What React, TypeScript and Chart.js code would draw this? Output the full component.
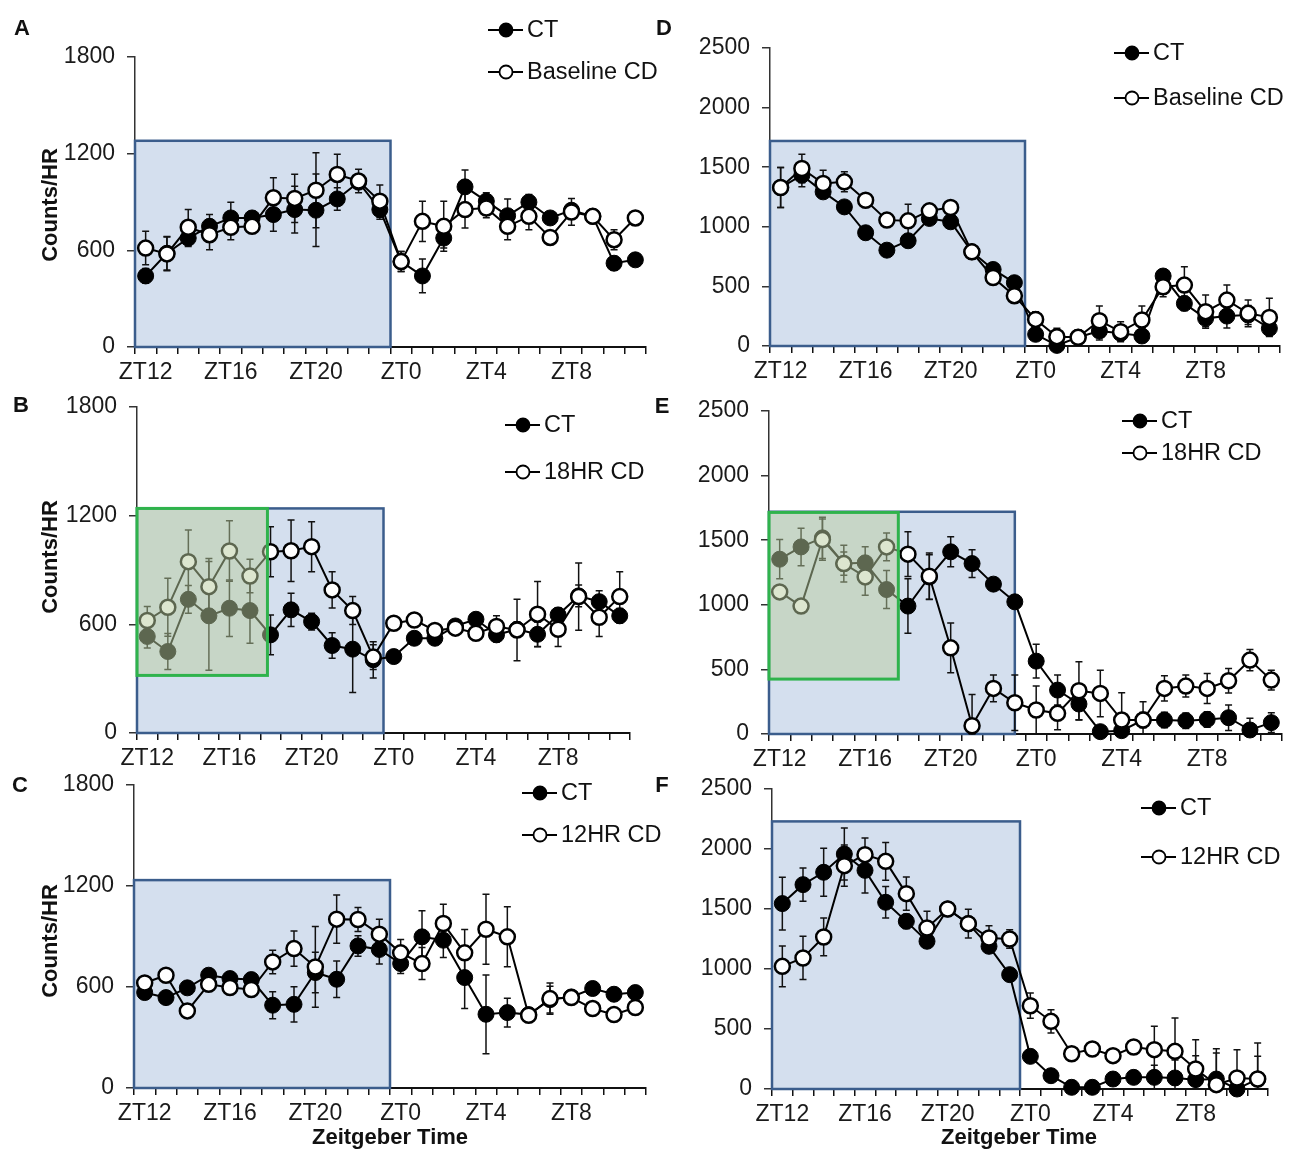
import { useEffect, useRef } from 'react';
import Chart from 'chart.js/auto';

const FONT = '"Liberation Sans", Arial, Helvetica, sans-serif';

// 24 hourly bins, starting at lights off (ZT12)
const hours = [
  'ZT12', 'ZT13', 'ZT14', 'ZT15', 'ZT16', 'ZT17', 'ZT18', 'ZT19', 'ZT20', 'ZT21', 'ZT22', 'ZT23',
  'ZT0', 'ZT1', 'ZT2', 'ZT3', 'ZT4', 'ZT5', 'ZT6', 'ZT7', 'ZT8', 'ZT9', 'ZT10', 'ZT11',
];
const labelledHours = ['ZT12', 'ZT16', 'ZT20', 'ZT0', 'ZT4', 'ZT8'];
const ticksLeft = [0, 600, 1200, 1800];
const ticksRight = [0, 500, 1000, 1500, 2000, 2500];

// A - baseline
const aCT = [441, 582, 676, 749, 801, 801, 822, 853, 849, 919, 1023, 853, 530, 441, 676, 994, 905, 815, 899, 801, 849, 811, 520, 541];
const aCTErr = [46, 104, 52, 73, 98, 42, 104, 145, 225, 70, 40, 60, 62, 105, 62, 104, 52, 104, 48, 20, 20, 20, 42, 25];
const aCD = [614, 578, 743, 697, 743, 749, 926, 922, 973, 1071, 1030, 905, 530, 780, 749, 853, 863, 749, 811, 680, 838, 811, 666, 801];
const aCDErr = [104, 104, 110, 94, 77, 42, 125, 150, 233, 125, 73, 100, 62, 125, 155, 115, 60, 83, 83, 30, 83, 20, 62, 20];

// B - 18HR CD
const bCT = [533, 450, 738, 647, 689, 676, 542, 680, 615, 483, 463, 404, 422, 523, 523, 591, 628, 542, 573, 545, 652, 757, 725, 647];
const bCTErr = [64, 100, 77, 300, 156, 180, 110, 92, 46, 70, 240, 100, 30, 30, 30, 30, 30, 40, 40, 68, 40, 60, 60, 40];
const bCD = [621, 694, 946, 808, 1005, 867, 1001, 1006, 1029, 790, 676, 419, 606, 624, 566, 579, 551, 588, 569, 656, 573, 753, 639, 753];
const bCDErr = [77, 160, 175, 156, 167, 92, 138, 170, 138, 100, 77, 68, 30, 30, 30, 30, 30, 60, 170, 180, 96, 185, 106, 138];

// C - 12HR CD
const cCT = [567, 537, 595, 670, 650, 644, 492, 497, 686, 646, 844, 823, 739, 898, 878, 656, 438, 448, 436, 525, 541, 591, 557, 567];
const cCTErr = [30, 30, 30, 30, 30, 30, 80, 105, 120, 109, 61, 87, 59, 155, 103, 184, 234, 85, 30, 79, 25, 30, 25, 25];
const cCD = [624, 670, 458, 616, 597, 585, 749, 828, 719, 1003, 1001, 914, 803, 739, 977, 803, 943, 898, 432, 531, 537, 472, 436, 478];
const cCDErr = [30, 30, 30, 30, 30, 30, 70, 105, 240, 143, 71, 89, 79, 95, 115, 139, 208, 178, 30, 93, 25, 25, 25, 25];

// D - baseline
const dCT = [1329, 1433, 1293, 1167, 950, 804, 883, 1070, 1042, 790, 642, 531, 98, 5, 73, 126, 106, 84, 587, 357, 232, 251, 260, 148];
const dCTErr = [168, 98, 42, 40, 40, 40, 50, 40, 40, 40, 40, 40, 40, 30, 60, 75, 60, 50, 50, 60, 70, 100, 80, 60];
const dCD = [1330, 1489, 1363, 1377, 1223, 1056, 1050, 1134, 1162, 790, 575, 422, 223, 78, 73, 212, 120, 218, 497, 511, 288, 385, 274, 240];
const dCDErr = [168, 120, 112, 84, 40, 40, 140, 40, 40, 40, 40, 40, 64, 70, 60, 123, 84, 117, 84, 153, 140, 126, 112, 160];

// E - 18HR CD
const eCT = [1353, 1448, 1518, 1319, 1325, 1118, 990, 1215, 1410, 1319, 1160, 1023, 564, 340, 232, 18, 26, 108, 108, 103, 113, 126, 31, 88];
const eCTErr = [152, 145, 160, 90, 124, 147, 211, 173, 116, 108, 50, 40, 131, 116, 124, 40, 40, 60, 60, 60, 60, 98, 90, 77];
const eCD = [1100, 990, 1505, 1319, 1216, 1448, 1392, 1221, 667, 64, 353, 242, 186, 160, 335, 314, 108, 108, 353, 371, 353, 412, 572, 417];
const eCDErr = [40, 40, 160, 142, 142, 108, 173, 180, 193, 242, 103, 214, 186, 128, 224, 180, 211, 142, 98, 85, 116, 95, 82, 77];

// F - 12HR CD
const fCT = [1545, 1703, 1806, 1958, 1822, 1556, 1397, 1231, 1500, 1378, 1189, 953, 272, 111, 14, 14, 83, 97, 97, 92, 78, 83, 0, 83];
const fCTErr = [220, 139, 200, 217, 189, 131, 60, 50, 30, 60, 40, 40, 50, 40, 30, 30, 30, 30, 100, 150, 200, 217, 30, 190];
const fCD = [1022, 1092, 1267, 1861, 1953, 1897, 1628, 1342, 1500, 1378, 1258, 1250, 694, 564, 294, 333, 278, 350, 328, 314, 167, 36, 92, 83];
const fCDErr = [170, 180, 157, 172, 139, 158, 139, 139, 30, 120, 103, 78, 105, 97, 30, 30, 30, 30, 194, 278, 244, 300, 236, 300];

// shaded boxes in axis units: [from bin, to bin, bottom, top]
const aDark = [-0.5, 11.5, 0, 1280];
const bDark = [-0.5, 11.5, 0, 1240];
const bDep = [-0.5, 5.85, 318, 1240];
const cDark = [-0.5, 11.5, 0, 1235];
const dDark = [-0.5, 11.5, 0, 1720];
const eDark = [-0.5, 11.0, 0, 1720];
const eDep = [-0.5, 5.55, 425, 1715];
const fDark = [-0.5, 11.5, 0, 2230];

const PAD_L = 100;
const PAD_R = 20;
const PAD_T = 45;
const PAD_B = 40;

const panels = [
  { letter: 'A', ct: aCT, ctErr: aCTErr, cd: aCD, cdErr: aCDErr, cdName: 'Baseline CD', ticks: ticksLeft, dark: aDark, dep: null,
    box: { l: 135, r: 646, t: 57, b: 347 }, legend: { x: 488, y1: 30, y2: 72 }, letterAt: [22, 28] },
  { letter: 'B', ct: bCT, ctErr: bCTErr, cd: bCD, cdErr: bCDErr, cdName: '18HR CD', ticks: ticksLeft, dark: bDark, dep: bDep,
    box: { l: 137, r: 630, t: 407, b: 733 }, legend: { x: 505, y1: 425, y2: 472 }, letterAt: [21, 405] },
  { letter: 'C', ct: cCT, ctErr: cCTErr, cd: cCD, cdErr: cCDErr, cdName: '12HR CD', ticks: ticksLeft, dark: cDark, dep: null,
    box: { l: 134, r: 646, t: 785, b: 1088 }, legend: { x: 522, y1: 793, y2: 835 }, letterAt: [20, 785] },
  { letter: 'D', ct: dCT, ctErr: dCTErr, cd: dCD, cdErr: dCDErr, cdName: 'Baseline CD', ticks: ticksRight, dark: dDark, dep: null,
    box: { l: 770, r: 1280, t: 48, b: 346 }, legend: { x: 1114, y1: 53, y2: 98 }, letterAt: [664, 28] },
  { letter: 'E', ct: eCT, ctErr: eCTErr, cd: eCD, cdErr: eCDErr, cdName: '18HR CD', ticks: ticksRight, dark: eDark, dep: eDep,
    box: { l: 769, r: 1282, t: 411, b: 734 }, legend: { x: 1122, y1: 421, y2: 453 }, letterAt: [662, 406] },
  { letter: 'F', ct: fCT, ctErr: fCTErr, cd: fCD, cdErr: fCDErr, cdName: '12HR CD', ticks: ticksRight, dark: fDark, dep: null,
    box: { l: 772, r: 1268, t: 789, b: 1089 }, legend: { x: 1141, y1: 808, y2: 857 }, letterAt: [662, 785] },
];

type PanelDef = (typeof panels)[number];

function boxPixels(chart: Chart, b: number[]) {
  const { x, y } = chart.scales;
  const l = x.getPixelForValue(b[0]);
  const r = x.getPixelForValue(b[1]);
  const bot = y.getPixelForValue(b[2]);
  const top = y.getPixelForValue(b[3]);
  return { l, r, top, bot };
}

function makePlugins(p: PanelDef) {
  const shade = {
    id: 'shade',
    beforeDatasetsDraw(chart: Chart) {
      const { ctx } = chart;
      const { l, r, top, bot } = boxPixels(chart, p.dark);
      ctx.save();
      ctx.fillStyle = '#d4dfee';
      ctx.fillRect(l, top, r - l, bot - top);
      ctx.strokeStyle = '#3b5d8c';
      ctx.lineWidth = 2.5;
      ctx.strokeRect(l, top, r - l, bot - top);
      ctx.restore();
    },
    afterDatasetsDraw(chart: Chart) {
      if (!p.dep) return;
      const { ctx } = chart;
      const { l, r, top, bot } = boxPixels(chart, p.dep);
      ctx.save();
      ctx.fillStyle = 'rgba(185, 205, 160, 0.5)';
      ctx.fillRect(l, top, r - l, bot - top);
      ctx.strokeStyle = '#2fb34c';
      ctx.lineWidth = 3;
      ctx.strokeRect(l, top, r - l, bot - top);
      ctx.restore();
    },
  };

  const errorBars = {
    id: 'errorBars',
    beforeDatasetsDraw(chart: Chart) {
      const { ctx } = chart;
      const y = chart.scales.y;
      ctx.save();
      ctx.strokeStyle = '#111';
      ctx.lineWidth = 1.5;
      const sets = [
        { meta: chart.getDatasetMeta(0), vals: p.cd, errs: p.cdErr },
        { meta: chart.getDatasetMeta(1), vals: p.ct, errs: p.ctErr },
      ];
      sets.forEach(({ meta, vals, errs }) => {
        vals.forEach((v, j) => {
          const px = meta.data[j].x;
          const t = y.getPixelForValue(v + errs[j]);
          const b = y.getPixelForValue(Math.max(0, v - errs[j]));
          ctx.beginPath();
          ctx.moveTo(px, t);
          ctx.lineTo(px, b);
          ctx.moveTo(px - 3.5, t);
          ctx.lineTo(px + 3.5, t);
          ctx.moveTo(px - 3.5, b);
          ctx.lineTo(px + 3.5, b);
          ctx.stroke();
        });
      });
      ctx.restore();
    },
  };

  const legend = {
    id: 'panelLegend',
    afterDraw(chart: Chart) {
      const { ctx } = chart;
      const ox = p.box.l - PAD_L;
      const oy = p.box.t - PAD_T;
      const x0 = p.legend.x - ox;
      const rows = [
        { y: p.legend.y1 - oy, name: 'CT', fill: '#000' },
        { y: p.legend.y2 - oy, name: p.cdName, fill: '#fff' },
      ];
      ctx.save();
      rows.forEach((row) => {
        ctx.strokeStyle = '#000';
        ctx.lineWidth = 2;
        ctx.beginPath();
        ctx.moveTo(x0, row.y);
        ctx.lineTo(x0 + 35, row.y);
        ctx.stroke();
        ctx.beginPath();
        ctx.arc(x0 + 18, row.y, 6.5, 0, Math.PI * 2);
        ctx.fillStyle = row.fill;
        ctx.fill();
        ctx.lineWidth = 1.8;
        ctx.stroke();
        ctx.fillStyle = '#111';
        ctx.font = `23.5px ${FONT}`;
        ctx.textBaseline = 'middle';
        ctx.textAlign = 'left';
        ctx.fillText(row.name, x0 + 39, row.y + 1);
      });
      ctx.restore();
    },
  };

  return [shade, errorBars, legend];
}

function Panel({ p }: { p: PanelDef }) {
  const canvasRef = useRef<HTMLCanvasElement>(null);

  useEffect(() => {
    if (!canvasRef.current) return;
    const top = p.ticks[p.ticks.length - 1];
    const chart = new Chart(canvasRef.current, {
      type: 'line',
      data: {
        labels: hours,
        datasets: [
          {
            label: p.cdName,
            data: p.cd,
            order: 0,
            borderColor: '#000',
            borderWidth: 2,
            pointRadius: 7.5,
            pointBorderWidth: 2.5,
            pointBackgroundColor: '#fff',
            pointBorderColor: '#000',
            clip: false,
          },
          {
            label: 'CT',
            data: p.ct,
            order: 1,
            borderColor: '#000',
            borderWidth: 2,
            pointRadius: 8,
            pointBorderWidth: 1,
            pointBackgroundColor: '#000',
            pointBorderColor: '#000',
            clip: false,
          },
        ],
      },
      options: {
        animation: false,
        responsive: true,
        maintainAspectRatio: false,
        layout: { padding: { left: 0, right: PAD_R, top: PAD_T, bottom: 0 } },
        plugins: { legend: { display: false }, tooltip: { enabled: false } },
        scales: {
          x: {
            type: 'category',
            offset: true,
            grid: { drawOnChartArea: false, drawTicks: true, tickLength: 7, offset: true, color: '#111', lineWidth: 1.5 },
            border: { display: true, color: '#111', width: 2 },
            ticks: {
              autoSkip: false,
              maxRotation: 0,
              padding: 5,
              color: '#1a1a1a',
              font: { family: FONT, size: 23 },
              callback: (_v, i) => (labelledHours.includes(hours[i]) ? hours[i] : ''),
            },
            afterFit: (s) => {
              s.height = PAD_B;
            },
          },
          y: {
            min: 0,
            max: top,
            grid: { drawOnChartArea: false, drawTicks: true, tickLength: 8, color: '#333', lineWidth: 1.5 },
            border: { display: true, color: '#333', width: 1.5 },
            ticks: {
              padding: 12,
              color: '#1a1a1a',
              font: { family: FONT, size: 23 },
              callback: (v) => String(v),
            },
            afterBuildTicks: (s) => {
              s.ticks = p.ticks.map((v) => ({ value: v }));
            },
            afterFit: (s) => {
              s.width = PAD_L;
            },
          },
        },
      },
      plugins: makePlugins(p),
    });
    return () => chart.destroy();
  }, [p]);

  const w = p.box.r - p.box.l + PAD_L + PAD_R;
  const h = p.box.b - p.box.t + PAD_T + PAD_B;
  return (
    <div style={{ position: 'absolute', left: p.box.l - PAD_L, top: p.box.t - PAD_T, width: w, height: h }}>
      <canvas ref={canvasRef} />
    </div>
  );
}

const boldText = { position: 'absolute' as const, fontFamily: FONT, fontWeight: 'bold' as const, fontSize: 22, lineHeight: '26px', color: '#111', whiteSpace: 'nowrap' as const };

export default function App() {
  return (
    <div style={{ position: 'absolute', left: 0, top: 0, width: 1300, height: 1159, background: '#fff', overflow: 'hidden' }}>
      {panels.map((p) => (
        <Panel key={p.letter} p={p} />
      ))}
      {panels.map((p) => (
        <div key={'l' + p.letter} style={{ ...boldText, left: p.letterAt[0] - 20, top: p.letterAt[1] - 13, width: 40, textAlign: 'center' }}>
          {p.letter}
        </div>
      ))}
      {[205, 557, 941].map((cy) => (
        <div key={'y' + cy} style={{ ...boldText, left: 50 - 100, top: cy - 13, width: 200, textAlign: 'center', transform: 'rotate(-90deg)' }}>
          Counts/HR
        </div>
      ))}
      {[390, 1019].map((cx) => (
        <div key={'x' + cx} style={{ ...boldText, left: cx - 150, top: 1137 - 13, width: 300, textAlign: 'center' }}>
          Zeitgeber Time
        </div>
      ))}
    </div>
  );
}
